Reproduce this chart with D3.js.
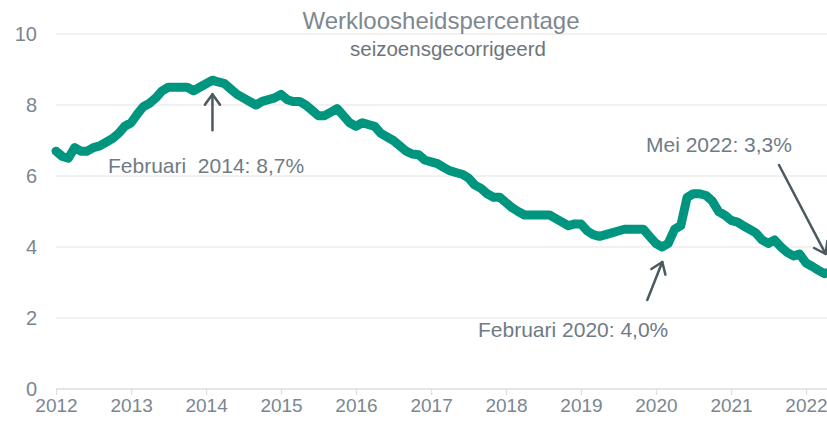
<!DOCTYPE html>
<html>
<head>
<meta charset="utf-8">
<script src="https://cdn.jsdelivr.net/npm/d3@7"></script>
<style>
  html, body { margin: 0; padding: 0; background: #ffffff; }
  svg { display: block; font-family: "Liberation Sans", Arial, sans-serif; }
</style>
</head>
<body>
<svg id="chart" width="827" height="423"></svg>
<script>
// ---- Data (monthly, seasonally adjusted unemployment %, Jan 2012 – May 2022) ----
const startYear = 2012;
const startMonth = 0; // January
const values = [
  // 2012
  6.7, 6.55, 6.5, 6.8, 6.7, 6.7, 6.8, 6.85, 6.95, 7.05, 7.2, 7.4,
  // 2013
  7.5, 7.75, 7.95, 8.05, 8.2, 8.4, 8.5, 8.5, 8.5, 8.5, 8.4, 8.5,
  // 2014
  8.6, 8.7, 8.65, 8.6, 8.45, 8.3, 8.2, 8.1, 8.0, 8.1, 8.15, 8.2,
  // 2015
  8.3, 8.15, 8.1, 8.1, 8.0, 7.85, 7.7, 7.7, 7.8, 7.9, 7.7, 7.5,
  // 2016
  7.4, 7.5, 7.45, 7.4, 7.2, 7.1, 7.0, 6.85, 6.7, 6.62, 6.6, 6.45,
  // 2017
  6.4, 6.35, 6.25, 6.15, 6.1, 6.05, 5.95, 5.75, 5.65, 5.5, 5.4, 5.4,
  // 2018
  5.25, 5.1, 5.0, 4.9, 4.9, 4.9, 4.9, 4.9, 4.8, 4.7, 4.6, 4.65,
  // 2019
  4.65, 4.45, 4.35, 4.3, 4.35, 4.4, 4.45, 4.5, 4.5, 4.5, 4.5, 4.3,
  // 2020
  4.1, 4.0, 4.1, 4.5, 4.6, 5.4, 5.5, 5.5, 5.45, 5.3, 5.0, 4.9,
  // 2021
  4.75, 4.7, 4.6, 4.5, 4.4, 4.2, 4.1, 4.2, 4.0, 3.85, 3.75, 3.8,
  // 2022
  3.55, 3.45, 3.35, 3.25, 3.3
];
const yearTicks = [2012, 2013, 2014, 2015, 2016, 2017, 2018, 2019, 2020, 2021, 2022];
const yTicks = [0, 2, 4, 6, 8, 10];
const titleText = "Werkloosheidspercentage";
const subtitleText = "seizoensgecorrigeerd";
// annotations: label, [year, month(0-based)], value
const annotationLabels = ["Februari  2014: 8,7%", "Februari 2020: 4,0%", "Mei 2022: 3,3%"];
const annotationDates = [[2014, 1], [2020, 1], [2022, 4]];
const annotationValues = [8.7, 4.0, 3.3];

const data = values.map((v, i) => ({ date: new Date(startYear, startMonth + i, 1), value: v }));

// ---- Layout ----
const svg = d3.select("#chart");
const W = 827;
const x = d3.scaleTime()
  .domain([new Date(2012, 0, 1), new Date(2022, 0, 1)])
  .range([56, 806]);
const y = d3.scaleLinear().domain([0, 10]).range([389, 34]);

const labelColor = "#7b8690";
const annColor = "#6f7b85";
const arrowColor = "#4b5961";
const lineColor = "#00957f";

// gridlines
svg.append("g").selectAll("line")
  .data(yTicks.filter(d => d > 0))
  .join("line")
  .attr("x1", 56).attr("x2", W)
  .attr("y1", d => y(d)).attr("y2", d => y(d))
  .attr("stroke", "#ececec").attr("stroke-width", 1.5);

// x axis
const xAxis = d3.axisBottom(x)
  .tickValues(yearTicks.map(yr => new Date(yr, 0, 1)))
  .tickFormat(d3.timeFormat("%Y"))
  .tickSize(6)
  .tickPadding(4);
const gx = svg.append("g").attr("transform", `translate(0,${y(0)})`).call(xAxis);
gx.select(".domain").remove();
gx.append("line").attr("x1", 56).attr("x2", W).attr("y1", 0).attr("y2", 0)
  .attr("stroke", "#dedede").attr("stroke-width", 1.5);
gx.selectAll(".tick line").attr("stroke", "#dedede").attr("stroke-width", 1.2);
gx.selectAll(".tick text")
  .attr("fill", labelColor)
  .style("font-size", "19px")
  .style("font-family", "'Liberation Sans', Arial, sans-serif");

// y axis labels
const yAxis = d3.axisLeft(y).tickValues(yTicks).tickSize(0).tickPadding(0);
const gy = svg.append("g").attr("transform", "translate(37,0)").call(yAxis);
gy.select(".domain").remove();
gy.selectAll(".tick text")
  .attr("fill", labelColor)
  .style("font-size", "20px")
  .style("font-family", "'Liberation Sans', Arial, sans-serif");

// line
const line = d3.line().x(d => x(d.date)).y(d => y(d.value));
svg.append("path")
  .datum(data)
  .attr("fill", "none")
  .attr("stroke", lineColor)
  .attr("stroke-width", 9)
  .attr("stroke-linejoin", "round")
  .attr("stroke-linecap", "round")
  .attr("d", line);

// title
svg.append("text").attr("x", 441).attr("y", 29).attr("text-anchor", "middle")
  .attr("fill", "#7d8891").style("font-size", "24px").text(titleText);
svg.append("text").attr("x", 448).attr("y", 56).attr("text-anchor", "middle")
  .attr("fill", "#6b757e").style("font-size", "20.5px").text(subtitleText);

// annotations
const pt = i => ({ px: x(new Date(annotationDates[i][0], annotationDates[i][1], 1)), py: y(annotationValues[i]) });
function arrow(x1, y1, x2, y2) {
  const ang = Math.atan2(y2 - y1, x2 - x1);
  const len = 13, spread = 0.62;
  const g = svg.append("g").attr("stroke", arrowColor).attr("stroke-width", 2.5)
    .attr("fill", "none").attr("stroke-linecap", "round").attr("stroke-linejoin", "round");
  g.append("line").attr("x1", x1).attr("y1", y1).attr("x2", x2).attr("y2", y2);
  g.append("polyline").attr("points", [
    [x2 - len * Math.cos(ang - spread), y2 - len * Math.sin(ang - spread)],
    [x2, y2],
    [x2 - len * Math.cos(ang + spread), y2 - len * Math.sin(ang + spread)]
  ].map(p => p.join(",")).join(" "));
}
// Feb 2014
{
  const p = pt(0);
  arrow(p.px, p.py + 50, p.px, p.py + 14);
  svg.append("text").attr("x", 108).attr("y", 173).attr("fill", annColor)
    .style("font-size", "21px").style("white-space", "pre").attr("xml:space", "preserve")
    .text(annotationLabels[0]);
}
// Feb 2020
{
  const p = pt(1);
  arrow(p.px - 15, p.py + 53, p.px, p.py + 15);
  svg.append("text").attr("x", 478).attr("y", 337).attr("fill", annColor)
    .style("font-size", "21px").text(annotationLabels[1]);
}
// May 2022
{
  const p = pt(2);
  arrow(779, 165, p.px - 5, p.py - 18);
  svg.append("text").attr("x", 646).attr("y", 152).attr("fill", annColor)
    .style("font-size", "21px").text(annotationLabels[2]);
}
</script>
</body>
</html>
